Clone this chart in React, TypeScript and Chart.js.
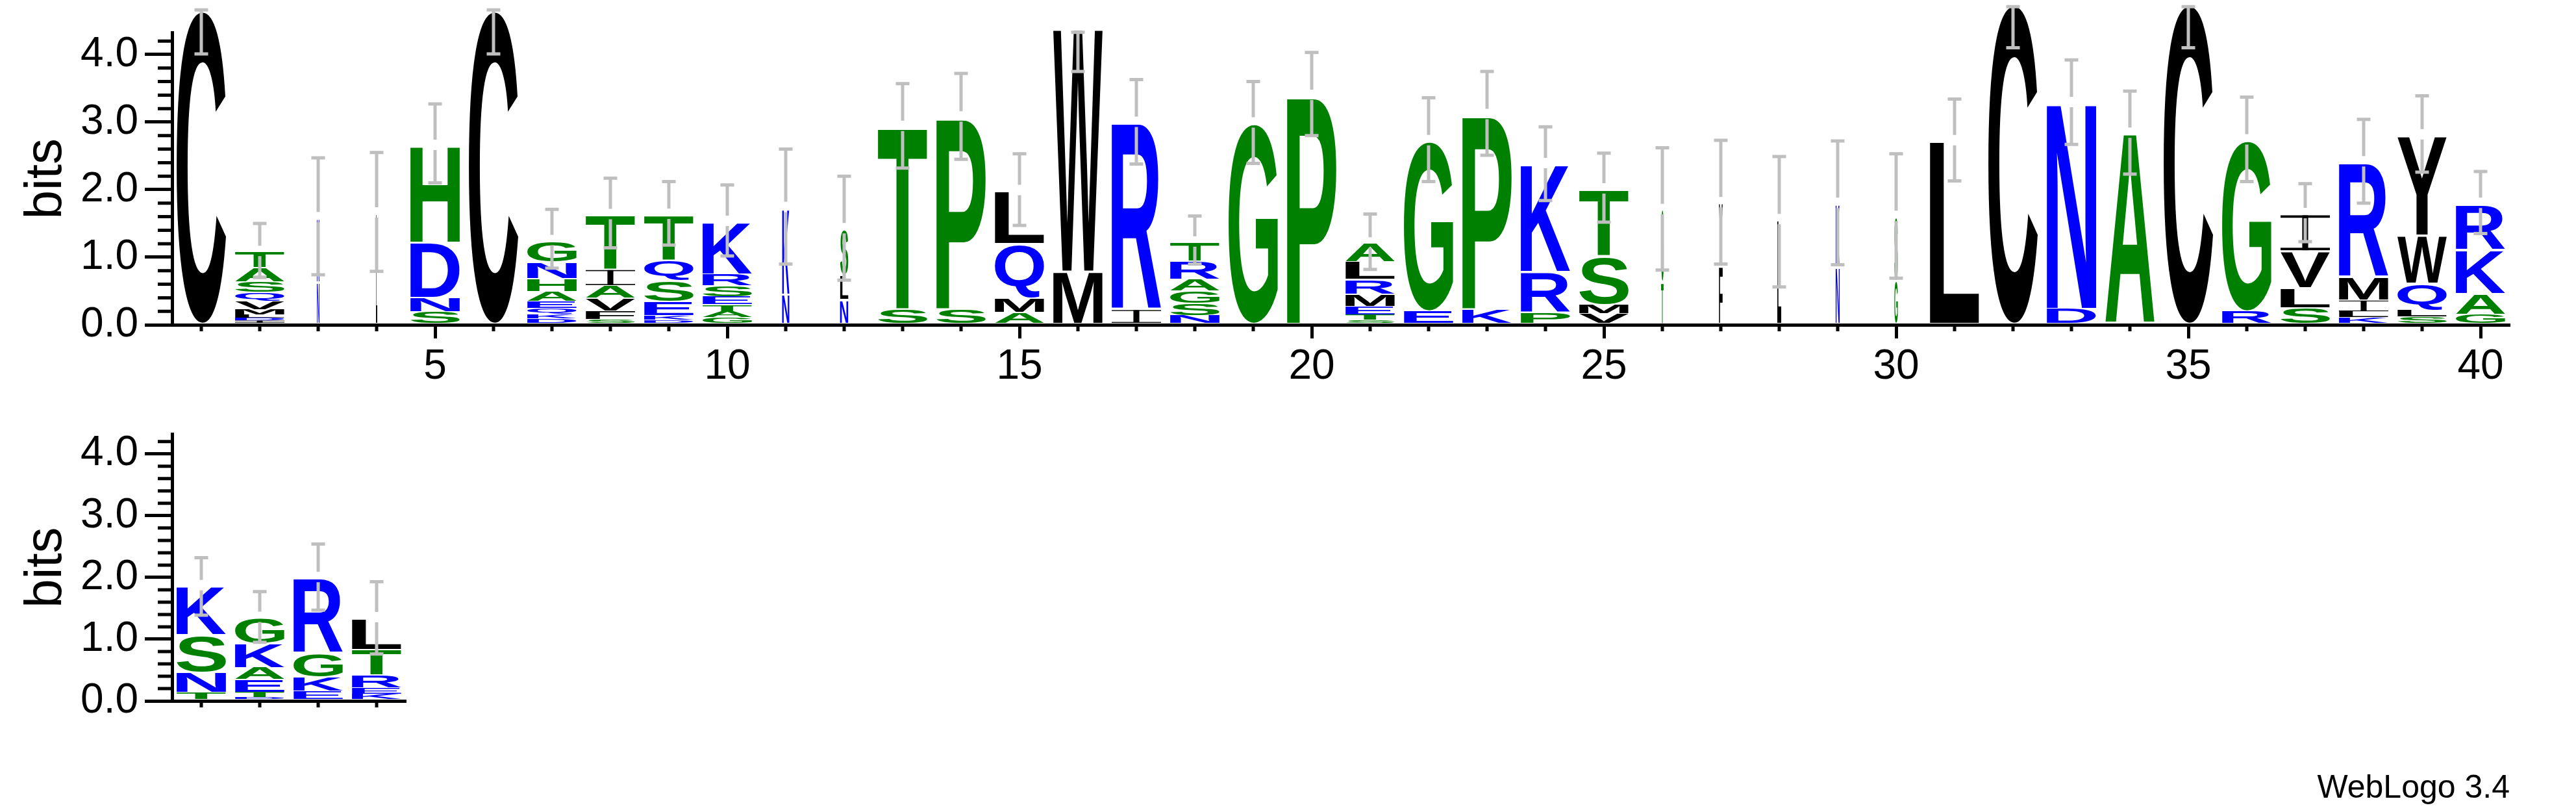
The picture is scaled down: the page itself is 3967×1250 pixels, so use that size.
import React, { useEffect, useRef } from "react";
import { Chart, registerables } from "chart.js";

Chart.register(...registerables);

// ---------------- data ----------------
const topPositions = [
  "1", "2", "3", "4", "5", "6", "7", "8", "9", "10",
  "11", "12", "13", "14", "15", "16", "17", "18", "19", "20",
  "21", "22", "23", "24", "25", "26", "27", "28", "29", "30",
  "31", "32", "33", "34", "35", "36", "37", "38", "39", "40",
];

// letters of each stack, bottom -> top
const topLetters = [
  "C", "IDLMVQSAT", "NK", "L", "SNDH", "C", "DKQEAHNG", "SFVAIT", "DKESQT", "GATESRK",
  "NK", "NLS", "ST", "SP", "AMQL", "MW", "IR", "NSGART", "G", "P",
  "STEMRLA", "EG", "KP", "PRK", "VMST", "TG", "FY", "L", "NK", "GS",
  "L", "C", "DN", "A", "C", "RG", "SLVI", "KLIMR", "SLQWY", "GAKR",
];

// heights in bits, same order as the letters
const topHeights = [
  [4.64],
  [0.04, 0.04, 0.05, 0.08, 0.125, 0.125, 0.16, 0.21, 0.24],
  [0.62, 0.95],
  [1.64],
  [0.18, 0.21, 0.82, 1.43],
  [4.64],
  [0.07, 0.07, 0.09, 0.1, 0.15, 0.19, 0.24, 0.32],
  [0.06, 0.125, 0.19, 0.19, 0.24, 0.81],
  [0.05, 0.07, 0.21, 0.32, 0.29, 0.68],
  [0.09, 0.09, 0.1, 0.115, 0.17, 0.17, 0.78],
  [0.44, 1.28],
  [0.36, 0.365, 0.68],
  [0.22, 2.7],
  [0.22, 2.84],
  [0.17, 0.21, 0.81, 0.78],
  [0.78, 3.59],
  [0.21, 2.77],
  [0.12, 0.18, 0.18, 0.18, 0.27, 0.28],
  [2.97],
  [3.38],
  [0.05, 0.08, 0.125, 0.18, 0.22, 0.26, 0.28],
  [0.19, 2.52],
  [0.22, 2.875],
  [0.17, 0.6, 1.6],
  [0.15, 0.135, 0.72, 0.99],
  [0.62, 1.07],
  [0.86, 0.93],
  [1.54],
  [0.84, 0.94],
  [0.64, 0.95],
  [2.71],
  [4.73],
  [0.225, 3.05],
  [2.82],
  [4.73],
  [0.19, 2.53],
  [0.24, 0.29, 0.55, 0.55],
  [0.09, 0.087, 0.17, 0.35, 1.7],
  [0.1, 0.105, 0.4, 0.71, 1.48],
  [0.135, 0.315, 0.65, 0.68],
];

// relative stack width (column occupancy)
const topWidths = [
  1, 1, 0.053, 0.025, 1, 1, 1, 1, 1, 1,
  0.145, 0.165, 1, 1, 1, 1, 1, 1, 1, 1,
  1, 1, 1, 1, 1, 0.05, 0.075, 0.08, 0.08, 0.07,
  1, 1, 1, 1, 1, 1, 1, 1, 1, 1,
];

const topErrLow = [
  4.01, 0.7, 0.74, 0.79, 2.1, 4.01, 0.84, 1.14, 1.18, 1.02,
  0.9, 0.66, 2.32, 2.45, 1.47, 3.75, 2.38, 0.9, 2.39, 2.8,
  0.82, 2.12, 2.51, 1.84, 1.52, 0.81, 0.9, 0.56, 0.89, 0.69,
  2.13, 4.1, 2.67, 2.23, 4.1, 2.12, 1.23, 1.8, 2.26, 1.35,
];
const topErrHigh = [
  4.66, 1.5, 2.47, 2.55, 3.27, 4.66, 1.71, 2.17, 2.12, 2.07,
  2.6, 2.2, 3.57, 3.72, 2.53, 4.33, 3.63, 1.61, 3.6, 4.03,
  1.64, 3.36, 3.75, 2.93, 2.54, 2.62, 2.73, 2.49, 2.72, 2.53,
  3.34, 4.71, 3.92, 3.46, 4.71, 3.37, 2.09, 3.04, 3.39, 2.27,
];

const bottomPositions = ["1", "2", "3", "4"];
const bottomLetters = ["TNSK", "DTEAKG", "EKGR", "KERTL"];
const bottomHeights = [
  [0.12, 0.33, 0.61, 0.79],
  [0.035, 0.09, 0.2, 0.2, 0.39, 0.42],
  [0.14, 0.23, 0.39, 1.22],
  [0.09, 0.1, 0.21, 0.42, 0.51],
];
const bottomWidths = [1, 1, 1, 1];
const bottomErrLow = [1.39, 0.95, 1.47, 0.76];
const bottomErrHigh = [2.32, 1.77, 2.54, 1.93];

const yTickValues = [0, 0.2, 0.4, 0.6, 0.8, 1, 1.2, 1.4, 1.6, 1.8, 2, 2.2, 2.4, 2.6, 2.8, 3, 3.2, 3.4, 3.6, 3.8, 4, 4.2];
const yMax = 4.32;
const yTitle = "bits";
const footerText = "WebLogo 3.4";

// ---------------- styling ----------------
const FAMILY = '"Liberation Sans", Arial, Helvetica, sans-serif';
const GREEN = "#008000";
const BLUE = "#0000ff";
const BLACK = "#000000";
const ERR = "#bfbfbf";
const letterColor: Record<string, string> = {
  C: BLACK, W: BLACK, M: BLACK, L: BLACK, V: BLACK, Y: BLACK, I: BLACK, F: BLACK,
  H: GREEN, G: GREEN, S: GREEN, T: GREEN, A: GREEN, P: GREEN,
  D: BLUE, N: BLUE, Q: BLUE, K: BLUE, R: BLUE, E: BLUE,
};

const metricsCache = new Map<string, { l: number; r: number; a: number; d: number }>();

function drawGlyph(ctx: CanvasRenderingContext2D, ch: string, color: string, left: number, top: number, w: number, h: number) {
  if (w <= 0 || h <= 0) return;
  ctx.save();
  ctx.fillStyle = color;
  if (ch === "I") {
    const bar = Math.max(0.8, h * 0.07);
    const sw = Math.max(0.8, w * 0.12);
    ctx.fillRect(left, top, w, bar);
    ctx.fillRect(left, top + h - bar, w, bar);
    ctx.fillRect(left + (w - sw) / 2, top, sw, h);
    ctx.restore();
    return;
  }
  ctx.font = `bold 200px ${FAMILY}`;
  let m = metricsCache.get(ch);
  if (!m) {
    const tm = ctx.measureText(ch);
    m = { l: tm.actualBoundingBoxLeft, r: tm.actualBoundingBoxRight, a: tm.actualBoundingBoxAscent, d: tm.actualBoundingBoxDescent };
    metricsCache.set(ch, m);
  }
  const gw = m.l + m.r;
  const gh = m.a + m.d;
  ctx.translate(left, top);
  ctx.scale(w / gw, h / gh);
  ctx.textAlign = "left";
  ctx.textBaseline = "alphabetic";
  ctx.fillText(ch, m.l, m.a);
  ctx.restore();
}

type Geom = { left: number; right: number; top: number; bottom: number; width: number; height: number };

type Cfg = {
  labels: string[];
  letters: string[];
  heights: number[][];
  widths: number[];
  errLow: number[];
  errHigh: number[];
  geom: Geom;
  majorX: (i: number) => boolean;
};

const isMajorY = (v: number) => Math.abs(v - Math.round(v)) < 1e-6;

function makeChart(canvas: HTMLCanvasElement, cfg: Cfg) {
  const { labels, letters, heights, widths, errLow, errHigh, geom, majorX } = cfg;
  const layers = Math.max(...heights.map((h) => h.length));
  const datasets: any[] = [];
  for (let k = 0; k < layers; k++) {
    datasets.push({
      label: "layer" + k,
      data: heights.map((h) => (k < h.length ? h[k] : 0)),
      backgroundColor: "rgba(0,0,0,0)",
      borderWidth: 0,
      categoryPercentage: 1,
      barPercentage: 0.845,
      stack: "logo",
    });
  }

  const lift = 2.5;
  const logoPlugin = {
    id: "logoLetters",
    afterDatasetsDraw(chart: any) {
      const ctx: CanvasRenderingContext2D = chart.ctx;
      const yScale = chart.scales.y;
      const stackTop: number[] = [];
      for (let k = 0; k < chart.data.datasets.length; k++) {
        const meta = chart.getDatasetMeta(k);
        meta.data.forEach((el: any, i: number) => {
          const ch = letters[i][k];
          if (!ch) return;
          const p = el.getProps(["x", "y", "base", "width"], true);
          const w = p.width * widths[i];
          const top = p.y - lift;
          const bottom = p.base - lift;
          const h = bottom - top;
          const inset = Math.min(3.5, h * 0.08);
          drawGlyph(ctx, ch, letterColor[ch] || BLACK, p.x - w / 2, top + inset, w, h - inset);
          stackTop[i] = Math.min(stackTop[i] ?? Infinity, top);
        });
      }
      const meta0 = chart.getDatasetMeta(0);
      ctx.save();
      ctx.strokeStyle = ERR;
      ctx.lineWidth = 5;
      ctx.lineCap = "butt";
      meta0.data.forEach((el: any, i: number) => {
        const x = el.x;
        const yh = yScale.getPixelForValue(errHigh[i]);
        const yl = yScale.getPixelForValue(errLow[i]);
        const t = stackTop[i];
        const gap = 8;
        ctx.beginPath();
        if (t > yh + 14 && t < yl - 14) {
          ctx.moveTo(x, yh);
          ctx.lineTo(x, t - gap);
          ctx.moveTo(x, t + gap);
          ctx.lineTo(x, yl);
        } else {
          ctx.moveTo(x, yh);
          ctx.lineTo(x, yl);
        }
        ctx.moveTo(x - 10.5, yh);
        ctx.lineTo(x + 10.5, yh);
        ctx.moveTo(x - 10.5, yl);
        ctx.lineTo(x + 10.5, yl);
        ctx.stroke();
      });
      ctx.restore();
    },
  };

  const minorTicks = {
    id: "minorTicks",
    afterDraw(chart: any) {
      const ctx: CanvasRenderingContext2D = chart.ctx;
      const area = chart.chartArea;
      const ys = chart.scales.y;
      const xs = chart.scales.x;
      ctx.save();
      ctx.strokeStyle = BLACK;
      ctx.lineWidth = 5;
      ctx.beginPath();
      ys.ticks.forEach((t: any) => {
        if (isMajorY(t.value)) return;
        const py = ys.getPixelForValue(t.value);
        ctx.moveTo(area.left - 22, py);
        ctx.lineTo(area.left, py);
      });
      xs.ticks.forEach((_t: any, idx: number) => {
        if (majorX(idx)) return;
        const px = xs.getPixelForTick(idx);
        ctx.moveTo(px, area.bottom);
        ctx.lineTo(px, area.bottom + 10);
      });
      ctx.stroke();
      ctx.restore();
    },
  };

  const tickFont = { family: FAMILY, size: 64 };

  return new Chart(canvas, {
    type: "bar",
    data: { labels, datasets },
    plugins: [logoPlugin, minorTicks],
    options: {
      animation: false,
      responsive: false,
      maintainAspectRatio: false,
      devicePixelRatio: 1,
      events: [],
      layout: {
        padding: { left: 0, top: geom.top, right: geom.width - geom.right, bottom: 0 },
      },
      plugins: {
        legend: { display: false },
        tooltip: { enabled: false },
        title: { display: false },
      },
      scales: {
        x: {
          type: "category",
          stacked: true,
          offset: true,
          grid: {
            display: true,
            offset: false,
            drawOnChartArea: false,
            drawTicks: true,
            tickLength: 21,
            tickWidth: 5,
            tickColor: (c: any) => (majorX(c.index) ? BLACK : "rgba(0,0,0,0)"),
          },
          border: { display: true, color: BLACK, width: 5 },
          ticks: {
            autoSkip: false,
            maxRotation: 0,
            minRotation: 0,
            padding: 6,
            color: BLACK,
            font: tickFont,
            callback: (_v: any, i: number) => (majorX(i) ? String(i + 1) : ""),
          },
          afterFit: (s: any) => {
            s.height = geom.height - geom.bottom;
          },
        },
        y: {
          type: "linear",
          stacked: true,
          min: 0,
          max: yMax,
          bounds: "data",
          grid: {
            display: true,
            drawOnChartArea: false,
            drawTicks: true,
            tickLength: 42,
            tickWidth: 5,
            tickColor: (c: any) => (c.tick && isMajorY(c.tick.value) ? BLACK : "rgba(0,0,0,0)"),
          },
          border: { display: true, color: BLACK, width: 5 },
          ticks: {
            autoSkip: false,
            padding: 10,
            color: BLACK,
            font: tickFont,
            callback: (v: any) => (isMajorY(Number(v)) ? Number(v).toFixed(1) : ""),
          },
          title: {
            display: true,
            text: yTitle,
            color: BLACK,
            font: { family: FAMILY, size: 80 },
            padding: { top: 24, bottom: 0 },
          },
          afterBuildTicks: (s: any) => {
            s.ticks = yTickValues.map((v) => ({ value: v }));
          },
          afterFit: (s: any) => {
            s.width = geom.left;
          },
        },
      },
    } as any,
  });
}

const TOP_GEOM: Geom = { left: 265, right: 3865, top: 50.7, bottom: 500, width: 3967, height: 620 };
const BOTTOM_GEOM: Geom = { left: 265, right: 625, top: 9.7, bottom: 459, width: 700, height: 510 };

export default function App() {
  const topRef = useRef<HTMLCanvasElement>(null);
  const botRef = useRef<HTMLCanvasElement>(null);

  useEffect(() => {
    const c1 = makeChart(topRef.current as HTMLCanvasElement, {
      labels: topPositions,
      letters: topLetters,
      heights: topHeights,
      widths: topWidths,
      errLow: topErrLow,
      errHigh: topErrHigh,
      geom: TOP_GEOM,
      majorX: (i) => (i + 1) % 5 === 0,
    });
    const c2 = makeChart(botRef.current as HTMLCanvasElement, {
      labels: bottomPositions,
      letters: bottomLetters,
      heights: bottomHeights,
      widths: bottomWidths,
      errLow: bottomErrLow,
      errHigh: bottomErrHigh,
      geom: BOTTOM_GEOM,
      majorX: () => false,
    });
    return () => {
      c1.destroy();
      c2.destroy();
    };
  }, []);

  return (
    <div style={{ position: "absolute", left: 0, top: 0, width: 3967, height: 1250, overflow: "hidden", background: "#ffffff" }}>
      <canvas
        ref={topRef}
        width={TOP_GEOM.width}
        height={TOP_GEOM.height}
        style={{ position: "absolute", left: 0, top: 0, width: TOP_GEOM.width, height: TOP_GEOM.height }}
      />
      <canvas
        ref={botRef}
        width={BOTTOM_GEOM.width}
        height={BOTTOM_GEOM.height}
        style={{ position: "absolute", left: 0, top: 620, width: BOTTOM_GEOM.width, height: BOTTOM_GEOM.height }}
      />
      <div
        style={{
          position: "absolute",
          right: 102,
          top: 1186,
          fontFamily: FAMILY,
          fontSize: 50,
          lineHeight: "50px",
          color: "#000",
          whiteSpace: "nowrap",
        }}
      >
        {footerText}
      </div>
    </div>
  );
}
